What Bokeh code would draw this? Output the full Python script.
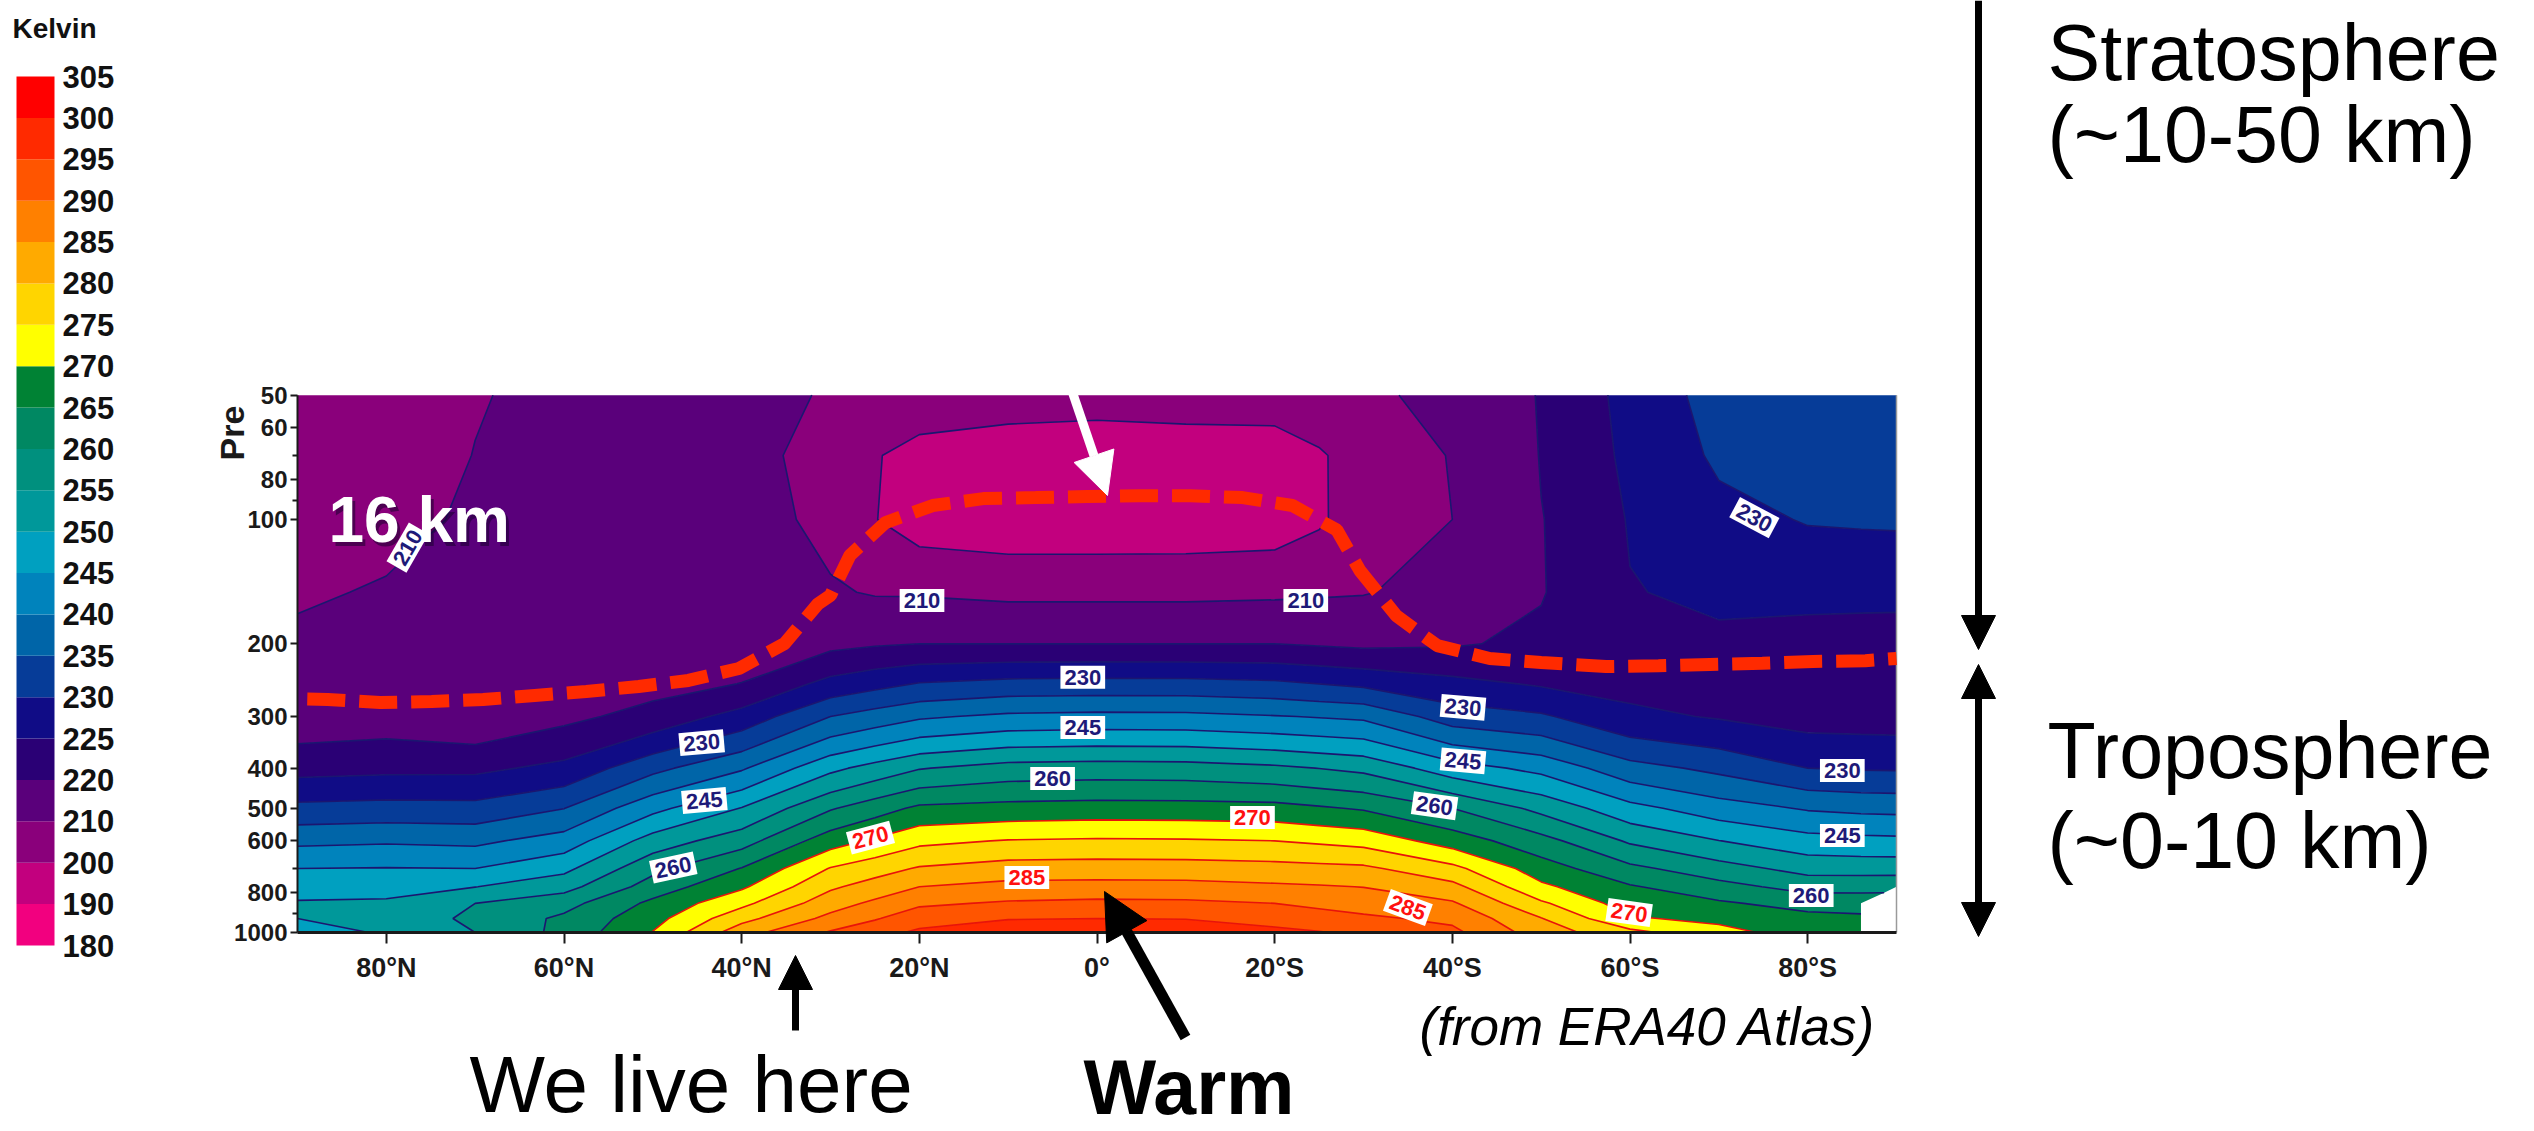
import numpy as np
from bokeh.plotting import figure
from bokeh.models import (Range1d, FixedTicker, Label, Arrow, NormalHead,
                          ColumnDataSource, LinearScale)
from bokeh.core.properties import value
from bokeh.embed import file_html
from bokeh.resources import INLINE

# ---------------------------------------------------------------- data
lats = [-90, -86, -80, -70, -60, -50, -40, -30, -25, -20, -10, 0,
        10, 20, 25, 30, 40, 50, 60, 70, 80, 90]
pressure_levels = [50, 70, 100, 150, 200, 250, 300, 400, 500, 600, 700,
                   775, 850, 925, 1000]

# zonal-mean temperature (K) at the pressure levels above, one list per latitude
t_90s = [233.5, 233.0, 230.6, 226.0, 223.2, 222.2, 222.8, 229.5, 238.6, 246.2, 253.0, 258.5, np.nan, np.nan, np.nan]
t_86s = [233.3, 232.8, 230.5, 226.0, 223.3, 222.3, 222.9, 229.6, 238.8, 246.4, 253.0, 258.4, 262.8, 266.0, 267.5]
t_80s = [233.0, 232.5, 230.3, 226.0, 223.5, 222.5, 223.0, 230.0, 239.5, 246.9, 253.2, 258.2, 263.2, 266.5, 268.0]
t_70s = [232.0, 230.8, 228.5, 225.8, 224.2, 223.6, 224.6, 233.8, 242.3, 250.1, 257.1, 261.7, 265.7, 268.9, 271.5]
t_60s = [226.5, 226.0, 225.3, 224.8, 224.0, 223.5, 226.1, 236.8, 246.6, 254.3, 261.2, 265.5, 267.6, 270.5, 276.5]
t_50s = [220.5, 220.3, 219.8, 219.7, 221.0, 224.5, 230.7, 243.6, 253.6, 261.8, 267.4, 271.0, 275.8, 280.2, 282.5]
t_40s = [213.0, 210.5, 210.0, 213.0, 219.5, 226.4, 232.5, 247.2, 260.0, 267.7, 276.4, 281.5, 285.6, 288.9, 291.2]
t_30s = [208.0, 204.0, 204.5, 209.5, 219.0, 229.0, 239.1, 253.8, 264.5, 273.3, 281.0, 284.9, 287.9, 290.9, 294.0]
t_25s = [205.5, 199.0, 198.8, 209.0, 219.5, 230.0, 239.7, 254.9, 265.6, 274.2, 281.4, 285.4, 289.0, 291.9, 295.3]
t_20s = [203.5, 196.0, 195.0, 208.5, 220.0, 231.0, 240.3, 256.0, 266.7, 275.0, 281.8, 285.8, 290.0, 292.8, 296.5]
t_10s = [203.5, 195.5, 194.2, 208.0, 220.0, 231.7, 241.3, 257.2, 267.0, 275.5, 282.3, 286.6, 291.0, 294.8, 298.7]
t_eq  = [203.0, 195.0, 194.0, 208.0, 220.0, 231.8, 241.4, 257.4, 267.1, 275.7, 282.4, 286.7, 291.2, 295.0, 299.0]
t_10n = [203.5, 195.5, 194.0, 208.0, 220.0, 231.6, 241.0, 257.0, 266.7, 275.3, 282.2, 286.5, 290.6, 294.7, 298.5]
t_20n = [204.0, 197.5, 195.5, 209.2, 220.0, 230.3, 239.3, 254.7, 266.0, 273.8, 280.5, 285.0, 289.2, 292.8, 295.9]
t_25n = [206.0, 200.5, 200.3, 209.3, 219.5, 228.5, 237.2, 251.8, 262.8, 270.8, 277.9, 282.1, 286.0, 289.6, 293.2]
t_30n = [209.2, 206.0, 207.5, 211.0, 218.7, 226.6, 235.0, 248.8, 259.5, 267.8, 275.3, 279.2, 282.8, 286.4, 290.5]
t_40n = [213.0, 213.5, 214.0, 215.0, 217.3, 220.1, 226.9, 239.4, 250.2, 257.9, 265.2, 269.2, 273.7, 278.4, 283.0]
t_50n = [216.0, 216.0, 216.0, 216.0, 216.5, 218.3, 221.7, 233.6, 243.6, 252.2, 258.7, 262.2, 266.2, 268.2, 270.2]
t_60n = [212.0, 212.5, 213.0, 214.0, 215.5, 217.0, 218.8, 226.3, 234.9, 242.2, 248.7, 253.2, 258.2, 261.0, 261.5]
t_70n = [209.5, 210.2, 211.0, 211.8, 212.5, 214.0, 216.0, 223.9, 231.6, 238.9, 245.0, 249.9, 255.0, 256.0, 255.0]
t_80n = [204.5, 205.5, 208.0, 210.7, 213.0, 215.3, 217.5, 223.8, 231.8, 239.4, 245.2, 248.0, 250.8, 252.0, 250.5]
t_90n = [203.0, 204.0, 206.0, 209.0, 211.6, 214.2, 216.8, 223.3, 231.3, 238.9, 245.0, 247.8, 250.5, 250.0, 248.0]

kelvin_bounds = [180, 190, 200, 210, 220, 225, 230, 235, 240, 245, 250,
                 255, 260, 265, 270, 275, 280, 285, 290, 295, 300, 305]
kelvin_colors = ["#F2007F", "#C2007E", "#8A007B", "#5A007B", "#2A0075",
                 "#100C86", "#063C98", "#0065A8", "#0083BC", "#00A0C0",
                 "#00989A", "#00907E", "#008862", "#008234", "#FFFF00",
                 "#FFD500", "#FFAA00", "#FF8000", "#FF5500", "#FF2A00",
                 "#FF0000"]

x_ticks = [80, 60, 40, 20, 0, -20, -40, -60, -80]
x_tick_labels = ["80°N", "60°N", "40°N", "20°N", "0°", "20°S", "40°S", "60°S", "80°S"]
y_ticks = [50, 60, 80, 100, 200, 300, 400, 500, 600, 800, 1000]
y_minor_ticks = [70, 90, 700, 900]

# contour labels (latitude, pressure, text, angle in degrees)
label_lat = [77.6, 19.7, -23.5, -74.0, 44.5, 44.2, 47.7, 1.6, 1.6, 5.0,
             25.5, -17.5, 7.9, -41.2, -41.2, -38.0, -35.0, -59.9, -83.9, -83.9, -80.4]
label_p = [117, 157, 157, 99, 347, 479, 696, 241, 319, 424,
           589, 527, 736, 285, 384, 493, 870, 895, 405, 582, 814]
label_text = ["210", "210", "210", "230", "230", "245", "260", "230", "245", "260",
              "270", "270", "285", "230", "245", "260", "285", "270", "230", "245", "260"]
label_angle = [60, 0, 0, -28, 5, 5, 12, 0, 0, 0,
               15, 0, 0, -5, -5, -8, -20, -8, 0, 0, 0]

# hand-drawn tropopause (dashed red line)
trop_lat = [88.9, 86.6, 80.7, 74.9, 69.1, 63.3, 57.5, 51.6, 46.0, 40.3, 35.2,
            31.4, 30.0, 27.8, 23.8, 18.5, 12.8, 6.9, 1.1, -4.7, -10.5, -16.4,
            -22.0, -27.0, -29.6, -33.7, -38.3, -44.2, -50.0, -57.3, -63.2,
            -69.0, -74.9, -80.6, -86.5, -90.0]
trop_p = [272, 272.8, 277.4, 275.8, 272.8, 266.8, 260.9, 253.7, 245.3, 229.5, 200,
          160, 152.7, 122, 101.7, 92.5, 89, 88.5, 88, 87.6, 87.6, 88.5,
          92.5, 106, 133, 171, 202, 217, 222, 227, 226,
          224.4, 223, 220.7, 219.7, 217]

# ---------------------------------------------------------------- geometry (page px)
W, H = 2532, 1129
FL, FR, FB = 297, 1896, 932      # 90N, 90S, 1000 hPa
PX_PER_DECADE = 413.0


def lat_of(px):
    return 90 - (px - FL) * 180.0 / (FR - FL)


def p_of(py):
    return 10 ** (3 - (FB - py) / PX_PER_DECADE)


# colour-bar band geometry
CB_L, CB_R, CB_T, CB_B = 16, 54, 76, 945
n_bands = len(kelvin_colors)
k_cb = (CB_B - CB_T) / n_bands

SANS = "Liberation Sans"

p = figure(width=W, height=H,
           x_range=Range1d(lat_of(0), lat_of(W)),
           y_range=Range1d(p_of(H), p_of(0)), y_axis_type="log",
           output_backend="svg", toolbar_location=None,
           min_border_left=0, min_border_right=0, min_border_top=0, min_border_bottom=0)
p.grid.visible = False
p.outline_line_color = None
p.background_fill_color = "white"
p.border_fill_color = "white"

# colour bar coordinate system
p.extra_x_ranges = {"cb": Range1d(-CB_L / (CB_R - CB_L), (W - CB_L) / (CB_R - CB_L))}
p.extra_y_ranges = {"cb": Range1d(-(H - CB_B) / k_cb, n_bands + CB_T / k_cb)}
p.extra_x_scales = {"cb": LinearScale()}
p.extra_y_scales = {"cb": LinearScale()}

band = np.arange(n_bands)
p.quad(left=0, right=1, bottom=band, top=band + 1, fill_color=kelvin_colors,
       line_color=None, x_range_name="cb", y_range_name="cb")
p.text(x=[1 + 8 / (CB_R - CB_L)] * len(kelvin_bounds), y=list(range(len(kelvin_bounds))),
       text=[str(v) for v in kelvin_bounds], x_range_name="cb", y_range_name="cb",
       text_font=value(SANS), text_font_style="bold", text_font_size="31px",
       text_color="#111111", text_align="left", text_baseline="middle")
p.text(x=[(12 - CB_L) / (CB_R - CB_L)], y=[n_bands + (CB_T - 28) / k_cb], text=["Kelvin"],
       x_range_name="cb", y_range_name="cb",
       text_font=value(SANS), text_font_style="bold", text_font_size="28px",
       text_color="#111111", text_align="left", text_baseline="middle")

# contour field
z = np.ma.masked_invalid(np.array([t_90s, t_86s, t_80s, t_70s, t_60s, t_50s, t_40s,
                                   t_30s, t_25s, t_20s, t_10s, t_eq, t_10n, t_20n,
                                   t_25n, t_30n, t_40n, t_50n, t_60n, t_70n, t_80n,
                                   t_90n], dtype=float).T)
line_cols = ["#1B1670" if v < 270 else "#E8140A" for v in kelvin_bounds]
p.contour(np.array(lats, float), np.array(pressure_levels, float), z,
          levels=kelvin_bounds, fill_color=kelvin_colors, line_color=line_cols,
          line_width=1.6)

# plot box
lat_n, lat_s = max(lats), min(lats)
p_top, p_bot = min(pressure_levels), max(pressure_levels)
p.line([lat_s, lat_s], [p_top, p_bot], line_color="#9a9a9a", line_width=1.5)
p.line([lat_n, lat_n], [p_top, p_bot], line_color="#1a1a1a", line_width=2)
p.line([lat_n, lat_s], [p_bot, p_bot], line_color="#1a1a1a", line_width=3)

# axes drawn at the plot box
p.xaxis.fixed_location = p_bot
p.yaxis.fixed_location = lat_n
p.xaxis.ticker = FixedTicker(ticks=x_ticks, minor_ticks=[])
p.xaxis.major_label_overrides = dict(zip(x_ticks, x_tick_labels))
p.yaxis.ticker = FixedTicker(ticks=y_ticks, minor_ticks=y_minor_ticks)
p.yaxis.major_label_overrides = {t: str(t) for t in y_ticks}
for ax in (p.xaxis[0], p.yaxis[0]):
    ax.axis_line_color = None
    ax.major_tick_line_color = "#1a1a1a"
    ax.minor_tick_line_color = "#1a1a1a"
    ax.major_label_text_font = SANS
    ax.major_label_text_font_style = "bold"
    ax.major_label_text_color = "#1a1a1a"
    ax.major_tick_in = 0
    ax.minor_tick_in = 0
p.xaxis.major_tick_line_width = 2
p.xaxis.major_tick_out = 11
p.xaxis.major_label_standoff = 9
p.xaxis.major_label_text_font_size = "27px"
p.yaxis.major_tick_line_width = 2
p.yaxis.minor_tick_line_width = 2
p.yaxis.major_tick_out = 7
p.yaxis.minor_tick_out = 5
p.yaxis.major_label_standoff = 3
p.yaxis.major_label_text_font_size = "24px"

# tropopause
p.line(trop_lat, trop_p, line_color="#FF2A00", line_width=13, line_dash="38 14")

# contour labels
lab = ColumnDataSource(dict(
    x=label_lat, y=label_p, text=label_text,
    angle=list(np.radians(label_angle)),
    color=["#1E1A78" if int(t) < 270 else "#FF1010" for t in label_text]))
p.text(x="x", y="y", text="text", angle="angle", source=lab, text_color="color",
       text_font=value(SANS), text_font_style="bold", text_font_size="22px",
       text_align="center", text_baseline="middle",
       background_fill_color="white", padding=4)

# "16 km"
p.add_layout(Label(x=lat_of(328), y=p_of(519), x_offset=3, y_offset=-4, text="16 km",
                   text_font=SANS, text_font_style="bold", text_font_size="64px",
                   text_color="#1a0030", text_alpha=0.55, text_baseline="middle"))
p.add_layout(Label(x=lat_of(328), y=p_of(519), text="16 km",
                   text_font=SANS, text_font_style="bold", text_font_size="64px",
                   text_color="white", text_baseline="middle"))

# cut-off axis title
p.add_layout(Label(x=lat_of(231), y=p_of(460), text="Pre", angle=np.pi / 2,
                   text_font=SANS, text_font_style="bold", text_font_size="34px",
                   text_color="#1a1a1a", text_baseline="middle", text_align="left"))


def arrow(x0, y0, x1, y1, color, width, head, both=False):
    hd = dict(size=head, fill_color=color, line_color=color)
    p.add_layout(Arrow(x_start=lat_of(x0), y_start=p_of(y0),
                       x_end=lat_of(x1), y_end=p_of(y1),
                       line_color=color, line_width=width,
                       end=NormalHead(**hd),
                       start=NormalHead(**hd) if both else None))


arrow(1071, 389, 1107, 495, "white", 9, 42)
arrow(1185, 1037, 1104, 891, "black", 11, 46)
arrow(795, 1030, 795, 955, "black", 7, 34)
arrow(1978, 0, 1978, 649, "black", 7, 34)
arrow(1978, 664, 1978, 936, "black", 7, 34, both=True)


def text(px, py_mid, s, size, style="normal"):
    p.add_layout(Label(x=lat_of(px), y=p_of(py_mid), text=s, text_font=SANS,
                       text_font_style=style, text_font_size=size,
                       text_color="black", text_baseline="middle",
                       text_align="left"))


text(2047, 52, "Stratosphere", "79px")
text(2047, 134, "(~10-50 km)", "79px")
text(2047, 750, "Troposphere", "79px")
text(2047, 840, "(~0-10 km)", "79px")
text(469, 1084, "We live here", "80px")
text(1083, 1086, "Warm", "77px", "bold")
text(1419, 1026, "(from ERA40 Atlas)", "53px", "italic")

open("out.html", "w").write(file_html(p, INLINE))
